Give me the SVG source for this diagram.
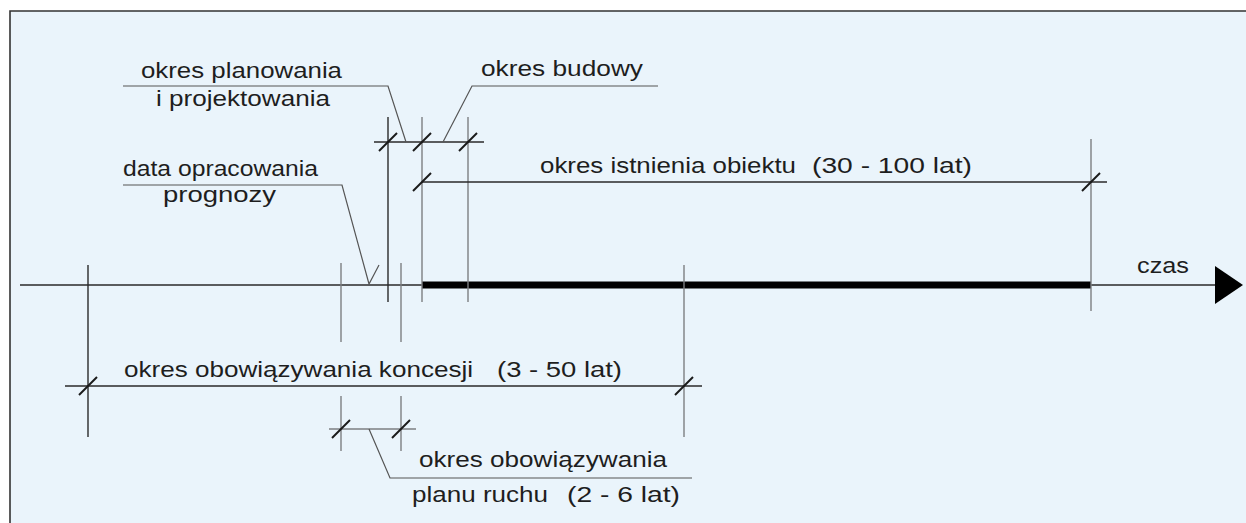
<svg xmlns="http://www.w3.org/2000/svg" width="1246" height="523" viewBox="0 0 1246 523">
<style>
.t{font-family:"Liberation Sans",Arial,sans-serif;font-size:22px;fill:#1e1e1e}
.dk{stroke:#2a2a2a;stroke-width:1.4;fill:none}
.gr{stroke:#7d7f82;stroke-width:1.4;fill:none}
.ld{stroke:#555;stroke-width:1.2;fill:none}
.tk{stroke:#1a1a1a;stroke-width:2;fill:none}
</style>
<defs>
<path id="tick" d="M-9,9 L9,-9" class="tk"/>
</defs>
<rect x="0" y="0" width="1246" height="523" fill="#fff"/>
<rect x="10" y="11" width="1236" height="512" fill="#eaf4fb"/>
<path d="M10,523 V11 H1246" stroke="#333" stroke-width="1.6" fill="none"/>

<g id="connectors">
<!-- time axis -->
<line x1="20" y1="285" x2="1216" y2="285" class="dk"/>
<line x1="422" y1="285" x2="1091" y2="285" stroke="#000" stroke-width="7"/>
<polygon points="1215,266 1243,285 1215,304" fill="#000"/>
<!-- extension lines -->
<line x1="88" y1="265" x2="88" y2="437" class="dk"/>
<line x1="341" y1="263" x2="341" y2="342" class="gr"/>
<line x1="341" y1="396" x2="341" y2="451" class="gr"/>
<line x1="401" y1="263" x2="401" y2="342" class="gr"/>
<line x1="401" y1="396" x2="401" y2="451" class="gr"/>
<line x1="388" y1="117" x2="388" y2="302" class="dk"/>
<line x1="422" y1="117" x2="422" y2="302" class="gr"/>
<line x1="468" y1="117" x2="468" y2="302" class="gr"/>
<line x1="684" y1="265" x2="684" y2="437" class="gr"/>
<line x1="1091" y1="139" x2="1091" y2="311" class="gr"/>
<!-- dimension lines -->
<line x1="374" y1="142" x2="484" y2="142" class="dk"/>
<line x1="422" y1="182" x2="1107" y2="182" class="dk"/>
<line x1="65" y1="386" x2="702" y2="386" class="dk"/>
<line x1="329" y1="429" x2="416" y2="429" class="gr"/>
<!-- ticks -->
<use href="#tick" x="388" y="142"/>
<use href="#tick" x="422" y="142"/>
<use href="#tick" x="468" y="142"/>
<use href="#tick" x="422" y="182"/>
<use href="#tick" x="1091" y="182"/>
<use href="#tick" x="88" y="386"/>
<use href="#tick" x="684" y="386"/>
<use href="#tick" x="341" y="429"/>
<use href="#tick" x="401" y="429"/>
<!-- leaders -->
<polyline points="123,86 388,86 406,142" class="ld"/>
<polyline points="658,86 472,86 443,142" class="ld"/>
<polyline points="123,185 342,185 369,284 379,265" class="ld"/>
<polyline points="369,429 390,478 692,478" class="ld"/>
</g>

<g id="planowanie">
<text class="t" x="141" y="78" textLength="201" lengthAdjust="spacingAndGlyphs">okres planowania</text>
<text class="t" x="156" y="106" textLength="174" lengthAdjust="spacingAndGlyphs">i projektowania</text>
</g>
<g id="budowa">
<text class="t" x="481" y="76" textLength="162" lengthAdjust="spacingAndGlyphs">okres budowy</text>
</g>
<g id="prognoza">
<text class="t" x="123" y="176" textLength="195" lengthAdjust="spacingAndGlyphs">data opracowania</text>
<text class="t" x="163" y="202" textLength="113" lengthAdjust="spacingAndGlyphs">prognozy</text>
</g>
<g id="istnienie">
<text class="t" x="540" y="173"><tspan textLength="256" lengthAdjust="spacingAndGlyphs">okres istnienia obiektu</tspan> <tspan x="812" textLength="160" lengthAdjust="spacingAndGlyphs">(30 - 100 lat)</tspan></text>
</g>
<g id="czas">
<text class="t" x="1137" y="273" textLength="52" lengthAdjust="spacingAndGlyphs">czas</text>
</g>
<g id="koncesja">
<text class="t" x="124" y="377"><tspan textLength="349" lengthAdjust="spacingAndGlyphs">okres obowiązywania koncesji</tspan> <tspan x="497" textLength="125" lengthAdjust="spacingAndGlyphs">(3 - 50 lat)</tspan></text>
</g>
<g id="plan-ruchu">
<text class="t" x="419" y="467" textLength="248" lengthAdjust="spacingAndGlyphs">okres obowiązywania</text>
<text class="t" x="412" y="502"><tspan textLength="136" lengthAdjust="spacingAndGlyphs">planu ruchu</tspan> <tspan x="567" textLength="113" lengthAdjust="spacingAndGlyphs">(2 - 6 lat)</tspan></text>
</g>
</svg>
